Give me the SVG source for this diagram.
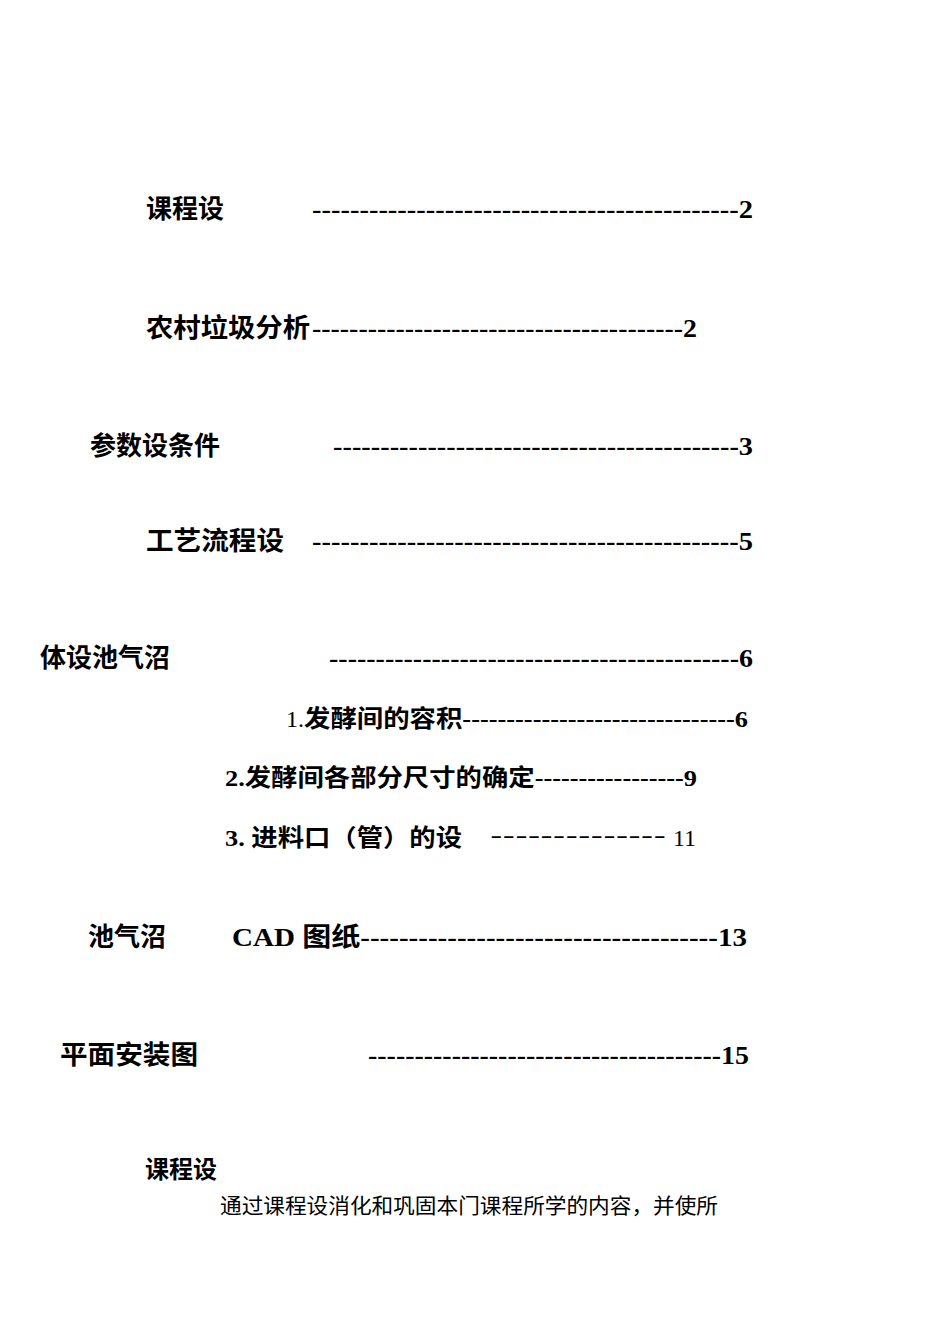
<svg xmlns="http://www.w3.org/2000/svg" width="950" height="1344" viewBox="0 0 950 1344">
<style>
.h{font-family:"Liberation Serif","Noto Sans CJK SC",serif;font-size:26px;font-weight:bold;fill:#000}
.s{font-family:"Liberation Serif","Noto Sans CJK SC",serif;font-size:24px;fill:#000}
.sb{font-family:"Liberation Serif","Noto Sans CJK SC",serif;font-size:24px;font-weight:bold;fill:#000}
.p{font-family:"Liberation Serif","Noto Sans CJK SC",serif;font-size:21px;fill:#000}
</style>
<rect width="950" height="1344" fill="#fff"/>
<text class="h" x="146" y="218">课程设</text>
<text class="h" x="312" y="218" textLength="441" lengthAdjust="spacingAndGlyphs">---------------------------------------------2</text>
<text class="h" x="146" y="337" textLength="164" lengthAdjust="spacingAndGlyphs">农村垃圾分析</text>
<text class="h" x="312" y="337" textLength="385" lengthAdjust="spacingAndGlyphs">----------------------------------------2</text>
<text class="h" x="90" y="455">参数设条件</text>
<text class="h" x="333" y="455" textLength="420" lengthAdjust="spacingAndGlyphs">-------------------------------------------3</text>
<text class="h" x="146" y="550" textLength="138" lengthAdjust="spacingAndGlyphs">工艺流程设</text>
<text class="h" x="312" y="550" textLength="441" lengthAdjust="spacingAndGlyphs">---------------------------------------------5</text>
<text class="h" x="40" y="667">体设池气沼</text>
<text class="h" x="329" y="667" textLength="424" lengthAdjust="spacingAndGlyphs">--------------------------------------------6</text>
<text class="s" x="286" y="727">1.</text>
<text class="sb" x="304" y="727" textLength="444" lengthAdjust="spacingAndGlyphs">发酵间的容积-------------------------------6</text>
<text class="sb" x="225" y="786" textLength="472" lengthAdjust="spacingAndGlyphs">2.发酵间各部分尺寸的确定-----------------9</text>
<text class="sb" x="225" y="846" textLength="237" lengthAdjust="spacingAndGlyphs">3. 进料口（管）的设</text>
<text class="s" x="490" y="846" textLength="176" lengthAdjust="spacingAndGlyphs">－－－－－－－－－－－－－－</text>
<text class="s" x="673" y="846">11</text>
<text class="h" x="88" y="946">池气沼</text>
<text class="h" x="232" y="946" textLength="515" lengthAdjust="spacingAndGlyphs">CAD 图纸-------------------------------------13</text>
<text class="h" x="60" y="1064" textLength="138" lengthAdjust="spacingAndGlyphs">平面安装图</text>
<text class="h" x="368" y="1064" textLength="381" lengthAdjust="spacingAndGlyphs">--------------------------------------15</text>
<text class="sb" x="145" y="1178" font-size="19">课程设</text>
<text class="p" x="220" y="1213" textLength="498" lengthAdjust="spacingAndGlyphs">通过课程设消化和巩固本门课程所学的内容，并使所</text>
</svg>
